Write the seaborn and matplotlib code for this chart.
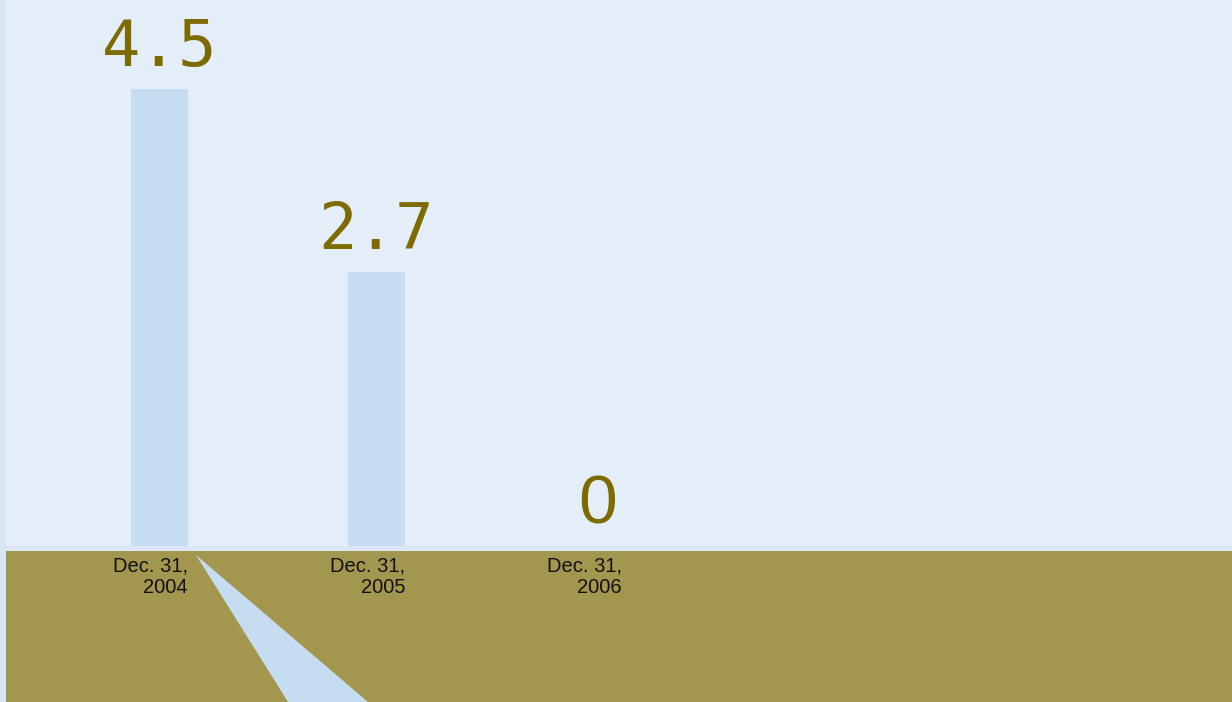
import matplotlib
matplotlib.use("Agg")
import matplotlib.pyplot as plt
import matplotlib.patches as mpatches
import seaborn as sns
import pandas as pd

# Data
categories = ["Dec. 31,\n2004", "Dec. 31,\n2005", "Dec. 31,\n2006"]
values = [4.5, 2.7, 0]
value_labels = ["4.5", "2.7", "0"]

W, H = 1232, 702
sns.set_theme(style="white")
plt.rcParams['font.family'] = ['Liberation Sans', 'DejaVu Sans']

fig = plt.figure(figsize=(W / 100, H / 100), dpi=100)
fig.patch.set_facecolor("#d9e7f5")

ax = fig.add_axes([6 / W, (H - 546) / H, (W - 6) / W, 546 / H])
ax.set_facecolor("#e4eef8")

df = pd.DataFrame({"cat": categories, "val": values})
bar_w = 0.263
sns.barplot(data=df, x="cat", y="val", color="#c6ddf1", saturation=1,
            width=bar_w, edgecolor="none", linewidth=0, ax=ax, errorbar=None)

ax.set_xlim(-0.707, 4.942)
ax.set_ylim(0, 5.374)
for s in ax.spines.values():
    s.set_visible(False)
ax.set_yticks([])
ax.set_xlabel("")
ax.set_ylabel("")

# Tick labels right-aligned at the bar's right edge
ax.set_xticks([i + bar_w / 2 for i in range(len(categories))])
ax.set_xticklabels(categories, ha="right", fontsize=14.5, color="#111111",
                   linespacing=1.2)
ax.tick_params(axis="x", length=0, pad=7.5)
ax.set_zorder(3)

# Value labels
for i, (v, lab) in enumerate(zip(values, value_labels)):
    if v == 0:
        fam, fs, dx = ['Liberation Sans'], 50, 3
    else:
        fam, fs, dx = ['DejaVu Sans Mono'], 46, 0
    ax.annotate(lab, xy=(i, v), xytext=(dx, 16.5), textcoords="offset points",
                ha="center", va="baseline", fontsize=fs, family=fam,
                color="#7d6a00")

# Thin strip below axes and olive band
fig.patches.append(mpatches.Rectangle((6 / W, (H - 551) / H), (W - 6) / W, 5 / H,
                                      transform=fig.transFigure, facecolor="#dbe7f4",
                                      edgecolor="none", zorder=1))
fig.patches.append(mpatches.Rectangle((6 / W, 0), (W - 6) / W, (H - 551) / H,
                                      transform=fig.transFigure, facecolor="#a3974f",
                                      edgecolor="none", zorder=1))
# Pointer triangle
fig.patches.append(mpatches.Polygon([(196 / W, (H - 555) / H), (288 / W, 0), (368 / W, 0)],
                                    closed=True, transform=fig.transFigure,
                                    facecolor="#c6ddf1", edgecolor="none", zorder=2))

fig.savefig("out.png", dpi=100, facecolor=fig.get_facecolor())
